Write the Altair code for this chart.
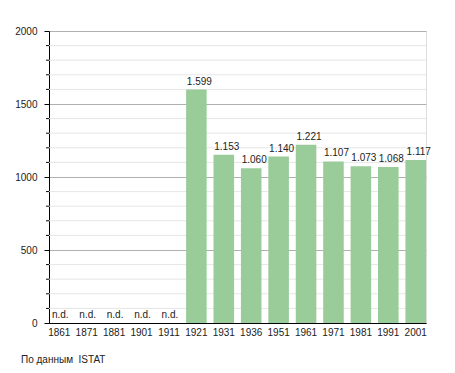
import altair as alt
import pandas as pd

years = ["1861", "1871", "1881", "1901", "1911", "1921", "1931", "1936",
         "1951", "1961", "1971", "1981", "1991", "2001"]
values = [None, None, None, None, None, 1599, 1153, 1060, 1140, 1221, 1107, 1073, 1068, 1117]
labels = ["n.d.", "n.d.", "n.d.", "n.d.", "n.d.", "1.599", "1.153", "1.060", "1.140",
          "1.221", "1.107", "1.073", "1.068", "1.117"]
major_ticks = [0, 500, 1000, 1500, 2000]
minor_ticks = [v for v in range(100, 2000, 100) if v % 500 != 0]

FONT = "Liberation Sans"

df = pd.DataFrame({"year": years, "value": values, "label": labels})
df["has"] = df["value"].notna()
df_val = df[df["has"]].copy()
df_nd = df[~df["has"]].copy()
df_nd["value"] = 0
df_minor = pd.DataFrame({"value": minor_ticks})

xscale = alt.Scale(domain=years, paddingInner=0.25, paddingOuter=0)
yscale = alt.Scale(domain=[0, 2000], nice=False)

x_axis = alt.Axis(labelAngle=0, ticks=False, labelPadding=4, labelFontSize=10,
                  labelFont=FONT, labelColor="#222", domainColor="#000",
                  domainWidth=1, grid=False)
x_enc = alt.X("year:N", scale=xscale, sort=years, title=None, axis=x_axis)

y_axis = alt.Axis(
    values=major_ticks, format="d", labelOverlap=False,
    labelFontSize=10, labelFont=FONT, labelColor="#222", labelPadding=7,
    domainColor="#000", tickColor="#000", tickSize=5,
    grid=True, gridColor="#b0b0b0", title=None,
)
y_enc = alt.Y("value:Q", scale=yscale, axis=y_axis, title=None)

minor_grid = alt.Chart(df_minor).mark_rule(color="#e6e6e6", strokeWidth=1).encode(y=y_enc)
minor_tick = alt.Chart(df_minor).mark_rule(color="#000", strokeWidth=1).encode(
    y=y_enc, x=alt.value(-3), x2=alt.value(0)
)

bars = alt.Chart(df_val).mark_bar(color="#99cc99").encode(x=x_enc, y=y_enc)

val_text = alt.Chart(df_val).mark_text(
    baseline="alphabetic", dy=-5, dx=3, fontSize=10, font=FONT, color="#222"
).encode(x=x_enc, y=y_enc, text="label:N")

nd_text = alt.Chart(df_nd).mark_text(
    baseline="alphabetic", dy=-5.5, dx=1, fontSize=10, font=FONT, color="#222"
).encode(x=x_enc, y=y_enc, text="label:N")

chart = alt.layer(minor_grid, minor_tick, bars, val_text, nd_text).properties(
    width=377,
    height=292,
    padding={"left": 41, "top": 23, "right": 12, "bottom": 44},
    autosize=alt.AutoSizeParams(type="none"),
    title=alt.TitleParams(
        "По данным\u00a0 ISTAT", orient="bottom", anchor="start", frame="group",
        dx=-28, offset=18, fontSize=10, fontWeight="normal", font=FONT, color="#222",
    ),
).configure_view(stroke=None).configure(background="white")

chart.save("out.html", embed_options={"renderer": "svg", "actions": False})
